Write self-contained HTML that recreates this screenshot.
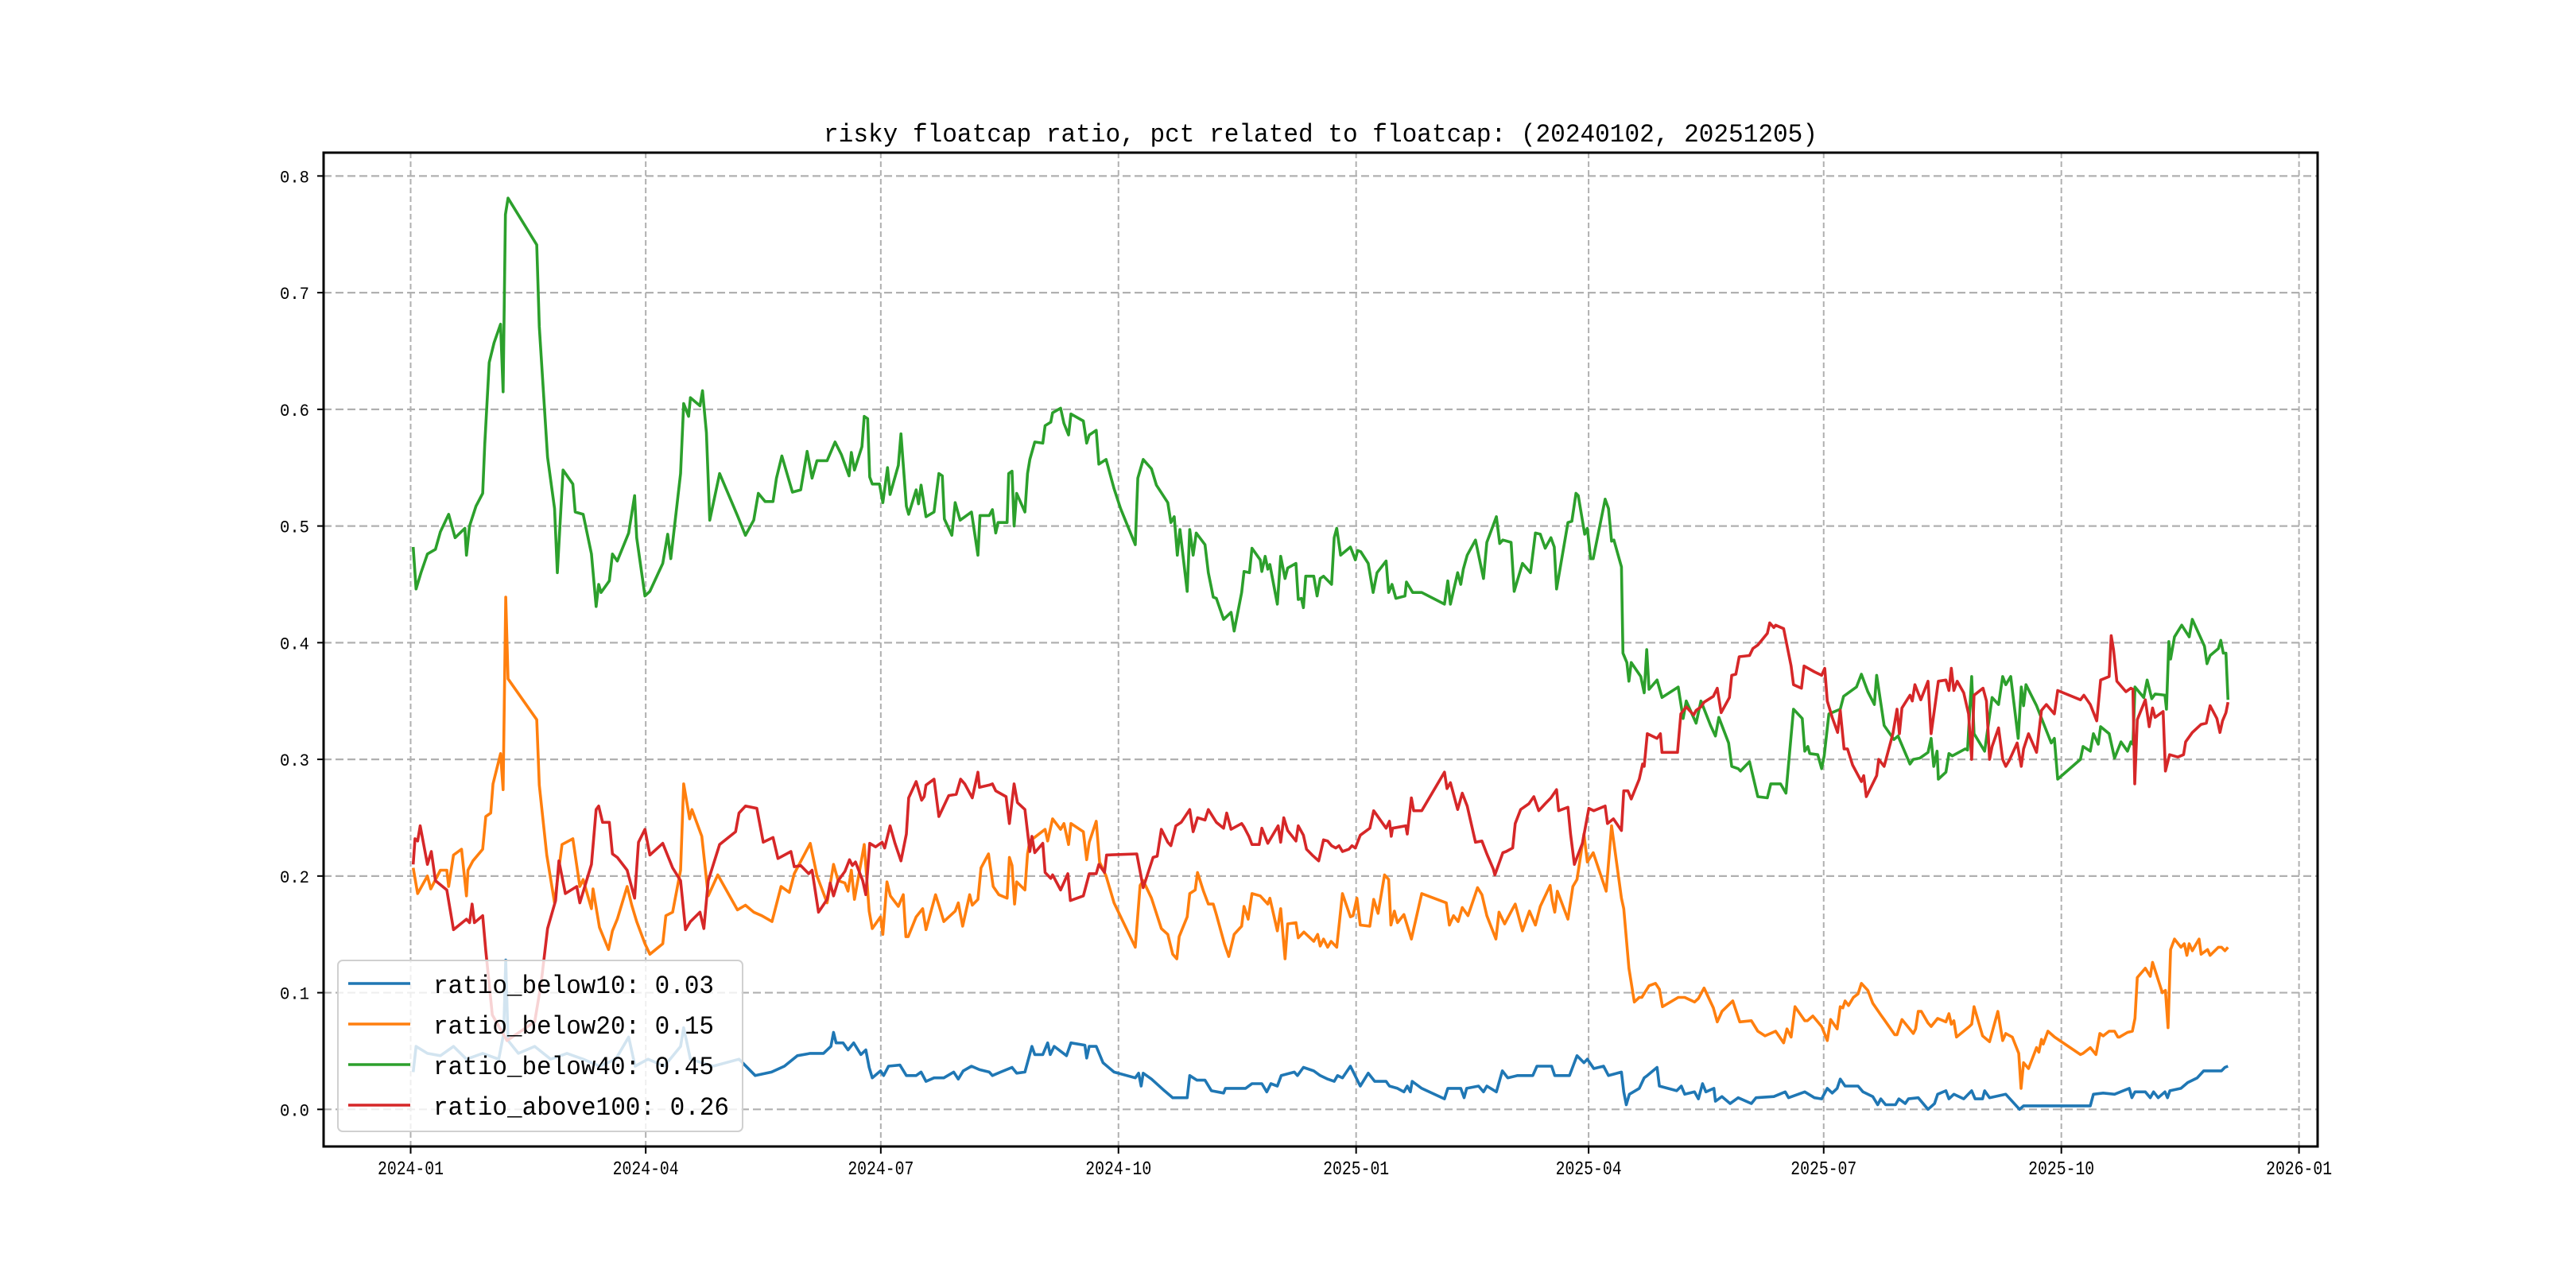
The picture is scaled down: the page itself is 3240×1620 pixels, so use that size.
<!DOCTYPE html>
<html><head><meta charset="utf-8"><style>
html,body{margin:0;padding:0;background:#fff;}
svg{display:block;}
text{font-family:"Liberation Mono","Noto Sans CJK SC",monospace;fill:#000;}
</style></head><body>
<svg id="chart" width="3240" height="1620" viewBox="0 0 3240 1620" xmlns="http://www.w3.org/2000/svg">
<rect x="0" y="0" width="3240" height="1620" fill="#fff"/>
<text x="1661" y="178" font-size="32" text-anchor="middle" textLength="1250" lengthAdjust="spacingAndGlyphs">risky floatcap ratio, pct related to floatcap: (20240102, 20251205)</text>
<g id="grid"></g>
<g id="series"></g>
<rect x="407" y="192" width="2508" height="1250" fill="none" stroke="#000" stroke-width="3"/>
<g id="ticks"></g>
<g id="legend"></g>
</svg>
<script>
// x values: days since 2024-01-01
const xTickDays = [0, 91, 182, 274, 366, 456, 547, 639, 731];
const xTickLabels = ["2024-01","2024-04","2024-07","2024-10","2025-01","2025-04","2025-07","2025-10","2026-01"];
const yTicks = [0.0, 0.1, 0.2, 0.3, 0.4, 0.5, 0.6, 0.7, 0.8];
const yTickLabels = ["0.0","0.1","0.2","0.3","0.4","0.5","0.6","0.7","0.8"];
const seriesNames = ["ratio_below10","ratio_below20","ratio_below40","ratio_above100"];
const lastValues = ["0.03","0.15","0.45","0.26"];
const seriesColors = ["#1f77b4","#ff7f0e","#2ca02c","#d62728"];

const below10Days = [1,2.1,6.5,11.5,16.6,21.6,27.9,34.1,36,36.8,37.7,41.7,48,54.2,60.5,66.8,73.1,79.4,84.4,86.9,91.9,98.2,104.5,105.7,108.3,117.1,127.1,133.4,139.7,144.7,149.7,154.7,159.8,
162.7,163.7,164.7,167.4,169.3,171.5,174.3,176.2,177.5,178.7,181.9,183.1,185,189.4,191.9,195.7,197.6,199.5,202.6,206.4,210.2,212,213.9,217.1,220.2,224,225.2,228.4,232.8,234.6,237.8,240.5,241.6,244.7,246.6,247.6,249.1,253.9,255.6,261,261.7,262.7,265.4,268,272.3,280.5,281.8,282.8,283.6,286.8,291.8,295,296.8,300.6,301.6,304.4,307.5,310,314.7,315.4,323.2,325.7,329.5,331.4,333,335.5,337,342.1,343.3,345.6,349.6,352.1,
355,357.5,358.8,360.7,363.8,367.6,370.7,373.2,377.6,378.9,382,384.5,385.8,387,387.7,391.4,400.2,401.5,406.5,407.8,408.8,413.4,415.3,416.6,420.3,422.6,424.7,428.5,434.4,436,441.7,442.9,448.6,451.5,454.2,455.5,458,461.8,463.7,468.7,469.6,470.6,471.8,475.6,477.5,478.7,482.5,483.4,490.1,491.9,493.2,497,498.5,500.1,501.4,504.5,505.1,507.6,510.8,513.9,519,520.8,527.7,532.1,533.4,539.7,543.4,
546.2,548.4,550.3,552.2,553.4,555.3,560.3,562.2,566,567.9,569.1,571,574.8,576.1,578.6,579.8,583.6,587.4,589.9,591.1,594.3,595.5,597.4,601.2,604.3,605.6,608.5,609.3,611.2,617.5,622.8,624.4,650.2,651.4,655.2,659.6,665.3,666.3,667.5,671.5,673.4,674.7,676.5,679.1,680.1,681,685.3,687.9,691.6,694.1,697.9,701,702.3,703.5];
const below10Values = [0.032,0.054,0.048,0.046,0.054,0.043,0.048,0.043,0.065,0.128,0.059,0.048,0.054,0.043,0.048,0.043,0.037,0.043,0.062,0.037,0.043,0.037,0.054,0.070,0.043,0.037,0.043,0.029,0.032,0.037,0.046,0.048,0.048,
0.054,0.066,0.057,0.057,0.051,0.057,0.047,0.051,0.036,0.027,0.033,0.029,0.037,0.038,0.029,0.029,0.032,0.024,0.027,0.027,0.032,0.026,0.033,0.037,0.034,0.032,0.029,0.032,0.036,0.031,0.032,0.054,0.047,0.047,0.057,0.047,0.054,0.046,0.057,0.055,0.044,0.054,0.054,0.040,0.032,0.027,0.031,0.020,0.031,0.026,0.016,0.010,0.010,0.010,0.029,0.025,0.025,0.016,0.014,0.018,0.018,0.022,0.022,0.015,0.022,0.020,0.029,0.032,0.029,0.036,0.033,0.029,
0.026,0.024,0.029,0.027,0.037,0.020,0.031,0.024,0.024,0.020,0.018,0.015,0.020,0.015,0.024,0.018,0.009,0.018,0.018,0.010,0.018,0.020,0.015,0.020,0.015,0.033,0.027,0.029,0.029,0.037,0.037,0.029,0.029,0.046,0.040,0.043,0.035,0.037,0.029,0.032,0.015,0.004,0.013,0.018,0.027,0.029,0.036,0.020,0.016,0.020,0.013,0.015,0.009,0.022,0.015,0.018,0.007,0.011,0.005,0.010,0.005,0.010,0.011,0.015,0.010,0.015,0.010,
0.009,0.018,0.014,0.018,0.026,0.020,0.020,0.015,0.011,0.004,0.009,0.004,0.004,0.009,0.005,0.009,0.010,0.000,0.005,0.013,0.016,0.009,0.013,0.009,0.016,0.009,0.009,0.016,0.010,0.013,0.000,0.003,0.003,0.013,0.014,0.013,0.018,0.010,0.015,0.015,0.010,0.015,0.010,0.015,0.010,0.016,0.018,0.023,0.027,0.033,0.033,0.033,0.036,0.037];

const below20Days = [1,2.7,6.5,7.8,11.5,14,14.7,16.6,19.7,21.6,22.2,24.1,27.9,29.1,31,31.9,34.8,35.8,36.8,37.7,48.8,49.8,52.7,55.7,58.6,62.8,65.5,66.8,70,70.6,73.1,76.6,78.1,80,83.8,85.6,87.5,90.7,92.6,97.6,98.8,101.4,104.5,105.7,108,108.9,112.7,115.2,118.9,126.5,129.6,132.8,135.9,139.9,143.4,146.6,148.5,154.7,157.3,
161.2,163.7,165.5,168.1,169.3,170.6,171.8,175.6,177.5,178.7,181.9,182.8,184.4,185.7,188.8,190.7,191.7,192.6,195.7,198.2,199.5,203.2,204.5,206.4,210.8,212,213.7,216.4,217.4,219.6,220.8,223.7,225.5,227.7,230.9,231.8,232.8,233.8,234.6,237.8,238.8,239.7,245.6,246.6,248.5,251.6,252.9,254.7,255.6,260.4,261.7,262.7,265.4,266.7,269.2,272.3,280.5,282.4,283.6,286.8,290.6,293.1,295,296.6,297.5,300.6,301.6,303.7,304.6,306.9,308.8,310.7,311.9,315,316.7,318.8,321.7,322.6,324.2,325.7,328.9,331.8,332.6,335.5,336.8,338.5,339.5,342.7,343.6,345.8,349.6,351.1,352.1,353.4,
355,356.3,358.5,360.7,363.8,364.8,366.3,367.6,371.3,372.8,374.5,377,378.6,379.5,380.8,382,384.5,387.4,391.4,400.9,402.1,403.7,405.5,407.1,409.3,413,414.7,416.6,420.1,421.3,423.5,426.6,427.6,430.4,433.1,435.4,437.3,441.1,441.9,442.9,443.9,448,449.9,451.5,454.2,455.5,457.8,462.8,464.9,468.7,469.6,471.6,473.7,475.6,476.6,479.4,481.9,483.4,484.6,490.7,493.2,497,498.5,500.7,504.3,505.8,507.6,511.8,514.5,519,521.5,524.3,528.4,531.5,532.8,534.4,535.9,539.7,540.7,542.8,
546.2,548.4,549.7,552.2,553.4,554.4,555.3,556.6,558.5,560.3,561.6,564.1,566,569.1,570.4,574.5,575.4,577.3,581.7,582.6,583.6,584.8,587.4,588.6,591.1,594.3,595.5,596.4,597.4,598.4,603.4,604.3,605.2,608.5,611.2,614.4,616.3,617.5,620,622.5,623.4,624.4,626.3,629.4,630.3,631.3,632,633.8,636.4,646.4,647.4,650.2,652.4,653.9,655.2,657.5,659.6,660.9,661.5,664.6,666.5,667.5,668.4,671.5,673.4,674.3,678.1,679.3,680.3,681.3,682.8,685.3,686.6,687.6,688.5,689.7,692.3,693.1,695.6,696.6,699.8,701,702.3,703.5];
const below20Values = [0.207,0.185,0.200,0.189,0.205,0.205,0.191,0.218,0.223,0.183,0.205,0.213,0.223,0.251,0.254,0.279,0.305,0.274,0.439,0.369,0.334,0.278,0.218,0.177,0.227,0.232,0.191,0.197,0.172,0.189,0.156,0.137,0.153,0.163,0.191,0.175,0.161,0.142,0.133,0.142,0.166,0.169,0.205,0.279,0.249,0.257,0.234,0.183,0.201,0.171,0.175,0.169,0.166,0.161,0.191,0.186,0.202,0.228,0.200,
0.177,0.210,0.196,0.194,0.187,0.205,0.180,0.227,0.170,0.155,0.165,0.150,0.195,0.183,0.174,0.184,0.148,0.148,0.165,0.172,0.154,0.184,0.175,0.161,0.170,0.177,0.157,0.184,0.175,0.180,0.207,0.219,0.191,0.184,0.181,0.216,0.209,0.176,0.195,0.188,0.219,0.230,0.240,0.230,0.249,0.240,0.245,0.227,0.245,0.238,0.214,0.229,0.247,0.212,0.200,0.177,0.139,0.192,0.196,0.181,0.155,0.150,0.133,0.129,0.148,0.165,0.185,0.188,0.203,0.187,0.176,0.176,0.167,0.142,0.131,0.150,0.157,0.174,0.163,0.185,0.183,0.176,0.181,0.153,0.172,0.129,0.159,0.160,0.147,0.152,0.144,0.150,0.140,0.146,0.139,
0.144,0.139,0.185,0.165,0.166,0.181,0.158,0.157,0.180,0.168,0.201,0.197,0.158,0.170,0.160,0.167,0.146,0.185,0.177,0.158,0.166,0.161,0.173,0.166,0.190,0.184,0.166,0.146,0.169,0.159,0.172,0.176,0.153,0.170,0.158,0.174,0.192,0.179,0.169,0.187,0.163,0.191,0.197,0.236,0.212,0.220,0.187,0.243,0.181,0.172,0.121,0.092,0.096,0.096,0.106,0.108,0.103,0.088,0.096,0.096,0.092,0.095,0.104,0.087,0.075,0.084,0.093,0.075,0.076,0.067,0.063,0.067,0.057,0.069,0.062,0.088,0.076,0.076,0.080,0.071,
0.059,0.077,0.069,0.088,0.087,0.093,0.089,0.096,0.099,0.108,0.102,0.091,0.081,0.077,0.064,0.064,0.077,0.065,0.069,0.084,0.084,0.074,0.071,0.078,0.075,0.082,0.073,0.076,0.062,0.071,0.073,0.088,0.063,0.058,0.084,0.059,0.065,0.062,0.048,0.018,0.040,0.035,0.053,0.049,0.060,0.056,0.067,0.062,0.047,0.048,0.053,0.047,0.065,0.063,0.067,0.067,0.062,0.062,0.066,0.067,0.078,0.113,0.121,0.114,0.126,0.100,0.102,0.070,0.137,0.146,0.139,0.142,0.132,0.142,0.136,0.146,0.133,0.137,0.132,0.139,0.139,0.136,0.139,0.136];

const below40Days = [1,2.1,4,6.5,9.6,11.5,14.7,17.2,21,21.6,22.8,25.3,27.9,28.7,30.4,32.3,34.8,35.8,36.7,37.7,48.8,49.8,53,55.7,56.8,59,62.8,63.7,66.8,70,71.8,72.8,73.7,76.9,78.1,80,84.4,86.7,87.5,90.7,92.6,97.6,99.5,100.7,104.5,105.7,107.6,108.3,112,113,114.5,115.8,119.6,126.5,129.6,132.8,134.6,137.2,140.3,141.6,143.7,147.8,151,153.5,155.4,157.3,
161.2,164.3,166.8,169.7,170.6,171.8,174.7,175.6,176.9,177.7,178.7,181.5,182.8,184.6,185.6,188.8,189.8,191.9,192.8,195.7,196.6,197.6,199.5,202.6,204.5,205.8,206.6,209.5,210.8,212.7,217.1,219.6,220.4,224,225.2,226.5,227.4,230.9,231.5,232.8,233.6,234.6,237.8,238.8,239.7,241.6,244.7,245.6,247.8,248.5,251.6,252.9,254.7,255.6,260.4,261.7,262.7,265.4,266.4,269.2,272.3,274.8,280.5,281.5,283.6,286.8,288.7,293.1,294.3,295.6,296.8,297.8,300.6,301.6,302.9,304.1,307.5,308.8,310.7,311.9,314.7,317.6,318.8,321.7,322.6,324.7,325.7,328.9,329.5,330.8,331.8,332.6,335.5,336.8,338.5,339.5,342.7,343.6,344.8,345.6,346.5,349.6,350.9,352.1,353.4,
356.5,357.5,358.5,360,363.8,365.7,366.6,367.8,370.7,372.6,374.1,377.6,378.6,379.9,381.4,384.9,385.5,387.9,391.4,400.2,401.5,402.5,405.3,406.5,407.5,409,412.2,415.3,416.6,420.3,421.6,422.8,426,427.2,430.4,433.5,435.4,437.3,439.2,441.4,442.7,443.6,448,449.5,451.1,452,454.5,455.5,456.8,457.8,462.4,463.7,464.9,465.8,468.7,469.3,470.8,471.6,472.5,476.2,477.5,478.5,479.4,482.5,484.4,490.7,492.6,493.8,497.6,499.5,503.2,505.1,506.4,510.2,511.4,513.9,514.8,518.3,521.5,525.2,526.5,530.3,532.4,535.3,538.7,539.7,540.9,541.6,544.7,
546.2,547.2,549,553.4,554.7,559.7,561.6,564.1,566.6,567.5,570.4,574.2,575.8,577.9,580.4,581.7,584.2,587.4,588.6,589.6,590.9,591.4,594.3,595.5,596.8,601.8,602.7,604.3,605.2,609.3,612.2,614.7,616.3,617.5,619.4,622.3,623.5,624.4,625.3,629.4,632.6,635.1,636.3,637.6,646.4,647.4,650.2,651.4,653.3,654.2,657.5,659.6,662.1,664.6,665.9,666.7,667.5,670.9,672.2,674,675.3,679.1,679.7,680.6,681.3,682.8,685.6,688.5,689.7,694.4,695.4,696.6,699.8,700.7,701.7,702.7,703.5];
const below40Values = [0.482,0.446,0.460,0.476,0.480,0.495,0.510,0.490,0.498,0.475,0.500,0.517,0.528,0.570,0.640,0.657,0.673,0.615,0.767,0.781,0.741,0.671,0.559,0.515,0.460,0.548,0.536,0.512,0.510,0.476,0.431,0.450,0.443,0.453,0.476,0.470,0.494,0.526,0.490,0.440,0.444,0.468,0.493,0.472,0.545,0.605,0.594,0.610,0.603,0.616,0.580,0.505,0.545,0.509,0.492,0.505,0.528,0.521,0.521,0.541,0.560,0.529,0.531,0.564,0.541,0.556,
0.556,0.572,0.561,0.543,0.563,0.548,0.568,0.594,0.592,0.542,0.536,0.536,0.520,0.550,0.527,0.552,0.579,0.517,0.510,0.531,0.519,0.535,0.508,0.512,0.545,0.543,0.506,0.492,0.520,0.505,0.512,0.475,0.509,0.509,0.514,0.494,0.503,0.503,0.545,0.547,0.500,0.528,0.512,0.545,0.557,0.572,0.571,0.586,0.589,0.597,0.601,0.588,0.578,0.596,0.590,0.571,0.578,0.582,0.553,0.557,0.532,0.515,0.484,0.541,0.557,0.549,0.535,0.520,0.503,0.508,0.475,0.497,0.444,0.497,0.475,0.494,0.484,0.460,0.439,0.438,0.420,0.426,0.410,0.443,0.461,0.460,0.481,0.471,0.461,0.474,0.463,0.467,0.433,0.474,0.455,0.464,0.468,0.437,0.438,0.430,0.457,0.457,0.440,0.455,0.457,
0.450,0.490,0.498,0.475,0.482,0.471,0.479,0.478,0.468,0.443,0.460,0.470,0.443,0.450,0.438,0.440,0.452,0.443,0.443,0.433,0.453,0.433,0.460,0.450,0.463,0.475,0.488,0.455,0.486,0.508,0.485,0.488,0.486,0.444,0.468,0.460,0.494,0.493,0.481,0.490,0.482,0.446,0.503,0.504,0.528,0.526,0.493,0.498,0.472,0.472,0.523,0.515,0.487,0.488,0.465,0.391,0.383,0.367,0.383,0.371,0.357,0.394,0.360,0.368,0.353,0.362,0.335,0.350,0.331,0.350,0.329,0.320,0.336,0.314,0.294,0.292,0.290,0.298,0.268,0.267,0.279,0.279,0.271,0.343,0.335,0.307,0.311,0.305,0.304,
0.292,0.303,0.339,0.343,0.354,0.362,0.373,0.358,0.347,0.372,0.329,0.317,0.320,0.309,0.296,0.300,0.301,0.306,0.318,0.294,0.307,0.283,0.289,0.305,0.303,0.309,0.308,0.371,0.322,0.307,0.353,0.347,0.371,0.364,0.371,0.318,0.362,0.346,0.364,0.346,0.328,0.314,0.318,0.283,0.300,0.311,0.307,0.322,0.313,0.328,0.322,0.301,0.315,0.307,0.315,0.313,0.362,0.353,0.368,0.352,0.356,0.355,0.343,0.401,0.386,0.405,0.415,0.405,0.420,0.397,0.382,0.389,0.395,0.402,0.391,0.391,0.351];

const above100Days = [1,1.7,2.7,3.7,6.5,8,9.6,14,16.6,21.6,22.8,23.8,24.7,27.9,29.1,31.6,37.3,48,50.5,53,56.1,57.4,59.9,64.3,65.5,70,71.8,72.8,74.3,76.9,78.1,80,83.8,86.7,88.2,90.7,92.6,97.6,101.4,104.5,106.4,108.3,112,113.5,115.2,119.6,125.8,127.1,129.6,134,136.5,140.3,142.2,147.2,148.5,151,154.1,155.4,157.9,
161.2,162.4,163.7,165.5,168.1,169.9,171,172.2,175,176.2,177.7,180,182.5,183.5,185.6,187.5,189.8,191.9,192.8,195.7,197.8,198.8,199.5,202.6,204.5,208.3,211.2,212.9,214.5,217.4,219.6,220.2,224,225.2,226.5,230.5,231.8,233.6,234.9,237.8,239.7,240.5,241.6,244.7,245.6,247.8,248.5,251.6,254.4,255.4,260.4,262.7,265.4,266.4,268.6,269.4,281.1,283.6,287.4,289,290.6,293.1,294.3,296.2,298.3,301.6,302.9,304.6,307.5,308.8,311.9,314.7,315.9,317.6,321.7,322.6,324.5,325.7,328.5,329.5,331.8,335.8,336.8,338,339.5,342.7,343.6,345.6,346.8,349,351.5,353.4,
355,356.5,358.1,359.4,360.7,363.2,364.4,365.7,367.6,371.3,372.8,375.7,377.6,378.9,379.6,380.1,385.2,385.8,387.4,388.3,391.4,400.2,401.2,402.5,405.3,407.1,409,412.2,414.7,416.6,419.1,419.7,422.8,424.1,426.6,427.6,429.7,432.9,434.8,436.7,439.2,441.4,443.6,444.4,448,449,450.5,451.7,453.6,456.1,458,462.4,463.3,465.6,468.7,469.6,471.2,472.5,475.6,476.9,477.5,478.7,480.6,482.5,483.8,484.4,490.4,491.7,493.8,496.7,497.6,499.5,500.7,504.3,505.8,507.3,510.5,511.4,513,514.3,518.3,519.6,521.5,525.2,526.1,527.7,528.4,531.5,534.4,535.3,538.4,539.4,543.4,
546.2,547.4,548.4,550.3,552.4,553.4,554.9,556.2,558.2,561.6,562.5,563.5,567.5,568.3,570.4,573.8,575.4,576.3,577.3,580.4,581.3,582.3,584.6,587.4,588.6,591.4,594.3,595.5,596.4,597.4,598.7,601.2,603.1,604.3,605.2,608.7,610,611.2,612.2,614.7,616.3,617.5,618.8,621.9,623.5,624.4,626.3,629.4,631.3,633.2,636.3,637.6,646.4,647.7,650.2,652.7,654.2,657.5,658.3,659.2,660.5,664,665.9,666.7,667.4,668.4,671.5,673,674.3,675.3,678.4,679.3,680.9,684.1,686.3,687.1,689.7,693.1,695.1,696.6,699.2,700.4,701.4,702.7,703.5];
const above100Values = [0.210,0.232,0.230,0.243,0.210,0.221,0.196,0.188,0.154,0.163,0.160,0.176,0.160,0.166,0.136,0.081,0.059,0.075,0.108,0.155,0.179,0.213,0.185,0.191,0.177,0.210,0.257,0.260,0.246,0.246,0.219,0.216,0.205,0.181,0.229,0.240,0.218,0.228,0.207,0.196,0.154,0.161,0.169,0.155,0.196,0.227,0.238,0.254,0.260,0.258,0.229,0.233,0.215,0.221,0.208,0.209,0.202,0.205,0.169,
0.180,0.194,0.183,0.196,0.204,0.214,0.209,0.212,0.196,0.184,0.228,0.225,0.229,0.224,0.243,0.228,0.213,0.236,0.267,0.281,0.265,0.268,0.278,0.283,0.251,0.269,0.270,0.283,0.279,0.267,0.289,0.276,0.278,0.279,0.273,0.268,0.245,0.279,0.263,0.257,0.221,0.234,0.220,0.228,0.203,0.198,0.201,0.188,0.202,0.179,0.183,0.202,0.202,0.210,0.203,0.218,0.219,0.190,0.216,0.217,0.240,0.229,0.226,0.243,0.246,0.257,0.238,0.250,0.248,0.257,0.246,0.241,0.254,0.240,0.245,0.242,0.234,0.227,0.227,0.241,0.228,0.243,0.229,0.250,0.239,0.230,0.243,0.235,0.223,0.218,0.213,0.231,
0.230,0.226,0.224,0.226,0.221,0.223,0.226,0.224,0.235,0.241,0.256,0.247,0.241,0.247,0.234,0.241,0.243,0.236,0.267,0.256,0.256,0.289,0.275,0.280,0.257,0.271,0.260,0.229,0.230,0.219,0.206,0.201,0.220,0.221,0.224,0.245,0.257,0.262,0.268,0.256,0.262,0.267,0.274,0.256,0.259,0.236,0.210,0.217,0.228,0.258,0.256,0.260,0.245,0.249,0.239,0.273,0.273,0.266,0.283,0.296,0.294,0.322,0.320,0.318,0.322,0.306,0.306,0.339,0.345,0.338,0.342,0.345,0.349,0.354,0.361,0.340,0.353,0.372,0.373,0.388,0.389,0.395,0.398,0.408,0.417,0.413,0.415,0.412,0.380,0.364,0.361,0.380,0.375,
0.372,0.378,0.350,0.336,0.323,0.342,0.309,0.309,0.295,0.281,0.286,0.268,0.286,0.300,0.294,0.322,0.343,0.322,0.344,0.355,0.350,0.364,0.351,0.367,0.322,0.367,0.368,0.359,0.378,0.359,0.367,0.357,0.339,0.300,0.355,0.361,0.350,0.300,0.311,0.327,0.300,0.294,0.299,0.314,0.294,0.309,0.322,0.306,0.342,0.347,0.339,0.359,0.351,0.355,0.347,0.333,0.368,0.371,0.406,0.394,0.367,0.358,0.361,0.360,0.279,0.334,0.351,0.328,0.344,0.336,0.341,0.290,0.304,0.302,0.304,0.315,0.323,0.330,0.331,0.346,0.335,0.323,0.333,0.340,0.349];

const NS = "http://www.w3.org/2000/svg";
const plotL = 407, plotR = 2915, plotT = 192, plotB = 1442;
const xMin = -33.7, xMax = 738.2, yMin = -0.0318, yMax = 0.82;
function xScale(d){ return plotL + (d - xMin) / (xMax - xMin) * (plotR - plotL); }
function yScale(v){ return plotB - (v - yMin) / (yMax - yMin) * (plotB - plotT); }
function mk(tag, attrs, parent){ const e = document.createElementNS(NS, tag); for (const k in attrs) e.setAttribute(k, attrs[k]); parent.appendChild(e); return e; }

const grid = document.getElementById('grid');
const ticks = document.getElementById('ticks');
yTicks.forEach((v, i) => {
  const y = yScale(v);
  const g = mk('line', {x1: plotL, x2: plotR, y1: y, y2: y, stroke: '#b0b0b0', 'stroke-width': 2.2, 'stroke-dasharray': '10,5'}, grid);
  
  
  const t = mk('line', {x1: plotL - 8, x2: plotL, y1: y, y2: y, stroke: '#000', 'stroke-width': 2}, ticks);
  
  
  const lb = mk('text', {x: 389, y: y + 8, 'font-size': 22, 'text-anchor': 'end', textLength: 37, lengthAdjust: 'spacingAndGlyphs'}, ticks);
  lb.textContent = yTickLabels[i];
  
  
});
xTickDays.forEach((d, i) => {
  const x = xScale(d);
  const g = mk('line', {x1: x, x2: x, y1: plotT, y2: plotB, stroke: '#b0b0b0', 'stroke-width': 2, 'stroke-dasharray': '7,4'}, grid);
  
  
  const t = mk('line', {x1: x, x2: x, y1: plotB, y2: plotB + 9, stroke: '#000', 'stroke-width': 2}, ticks);
  
  
  const lb = mk('text', {x: x, y: 1477, 'font-size': 24, 'text-anchor': 'middle', textLength: 83, lengthAdjust: 'spacingAndGlyphs'}, ticks);
  lb.textContent = xTickLabels[i];
  
  
});

const seriesDays = [below10Days, below20Days, below40Days, above100Days];
const seriesVals = [below10Values, below20Values, below40Values, above100Values];
const sg = document.getElementById('series');
seriesDays.forEach((days, s) => {
  const vals = seriesVals[s];
  let d = '';
  for (let i = 0; i < days.length && i < vals.length; i++) d += (i ? 'L' : 'M') + xScale(days[i]).toFixed(1) + ',' + yScale(vals[i]).toFixed(1);
  const p = mk('path', {d: d, fill: 'none', stroke: seriesColors[s], 'stroke-width': 3.6, 'stroke-linejoin': 'round'}, sg);
  
  
});

const lg = document.getElementById('legend');
const box = mk('rect', {x: 425, y: 1208, width: 509, height: 215, rx: 6, fill: '#fff', 'fill-opacity': 0.8, stroke: '#d0d0d0', 'stroke-width': 2}, lg);


const rowY = [1237, 1288, 1339, 1390];
seriesNames.forEach((n, i) => {
  const ln = mk('line', {x1: 438, x2: 516, y1: rowY[i], y2: rowY[i], stroke: seriesColors[i], 'stroke-width': 3.6}, lg);
  
  
  const label = n + ': ' + lastValues[i];
  const t = mk('text', {x: 545, y: rowY[i] + 12, 'font-size': 32, textLength: (label.length * 18.6).toFixed(0), lengthAdjust: 'spacingAndGlyphs'}, lg);
  t.textContent = label;
  
  
});
</script>
</body></html>
